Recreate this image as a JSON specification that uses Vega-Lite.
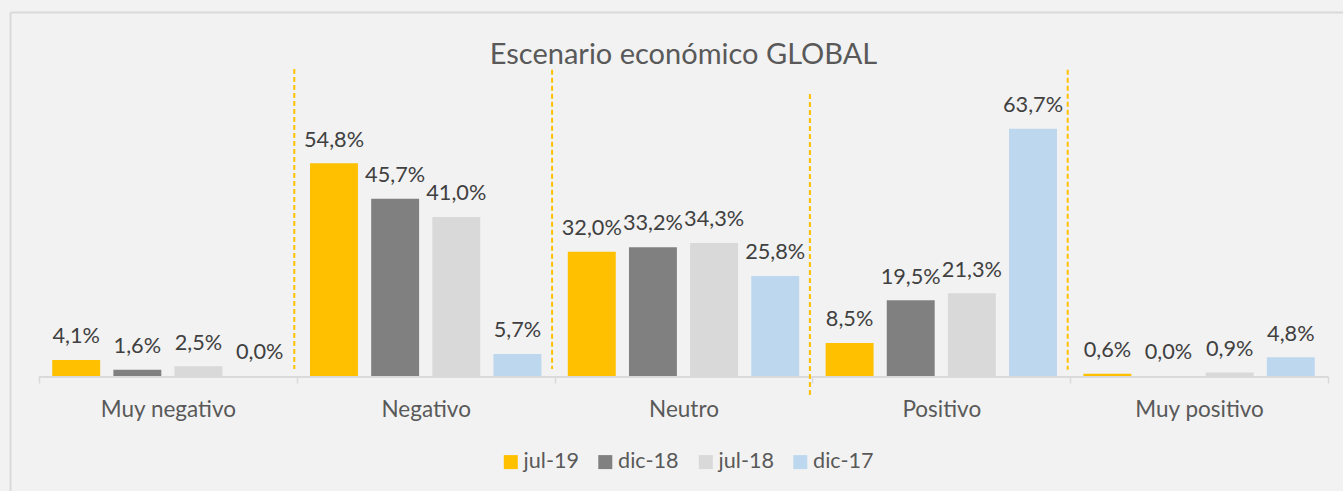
{
  "$schema": "https://vega.github.io/schema/vega-lite/v6.json",
  "autosize": {"type": "none"},
  "padding": {"left": 10, "top": 12, "right": 0, "bottom": 0},
  "width": 1333,
  "height": 479,
  "background": "#F2F2F2",
  "title": {
    "text": "Escenario económico GLOBAL",
    "font": "Lato",
    "fontSize": 29,
    "fontWeight": "normal",
    "color": "#595959",
    "anchor": "middle",
    "frame": "group",
    "baseline": "alphabetic",
    "offset": -81,
    "dx": 7
  },
  "config": {
    "view": {"stroke": null},
    "locale": {"number": {"decimal": ",", "thousands": ".", "grouping": [3], "currency": ["", " €"]}}
  },
  "datasets": {
    "main": [
      {"cat": "Muy negativo", "s": "jul-19", "v": 0.041},
      {"cat": "Muy negativo", "s": "dic-18", "v": 0.016},
      {"cat": "Muy negativo", "s": "jul-18", "v": 0.025},
      {"cat": "Muy negativo", "s": "dic-17", "v": 0.0},
      {"cat": "Negativo", "s": "jul-19", "v": 0.548},
      {"cat": "Negativo", "s": "dic-18", "v": 0.457},
      {"cat": "Negativo", "s": "jul-18", "v": 0.41},
      {"cat": "Negativo", "s": "dic-17", "v": 0.057},
      {"cat": "Neutro", "s": "jul-19", "v": 0.32},
      {"cat": "Neutro", "s": "dic-18", "v": 0.332},
      {"cat": "Neutro", "s": "jul-18", "v": 0.343},
      {"cat": "Neutro", "s": "dic-17", "v": 0.258},
      {"cat": "Positivo", "s": "jul-19", "v": 0.085},
      {"cat": "Positivo", "s": "dic-18", "v": 0.195},
      {"cat": "Positivo", "s": "jul-18", "v": 0.213},
      {"cat": "Positivo", "s": "dic-17", "v": 0.637},
      {"cat": "Muy positivo", "s": "jul-19", "v": 0.006},
      {"cat": "Muy positivo", "s": "dic-18", "v": 0.0},
      {"cat": "Muy positivo", "s": "jul-18", "v": 0.009},
      {"cat": "Muy positivo", "s": "dic-17", "v": 0.048}
    ],
    "seps": [
      {"cat": "Negativo", "top": 0.791, "bottom": 0.018},
      {"cat": "Neutro", "top": 0.789, "bottom": 0.018},
      {"cat": "Positivo", "top": 0.727, "bottom": -0.049},
      {"cat": "Muy positivo", "top": 0.789, "bottom": 0.016}
    ]
  },
  "layer": [
    {
      "data": {"name": "main"},
      "mark": {"type": "bar"},
      "encoding": {
        "x": {"field": "cat", "type": "nominal",
              "scale": {"domain": ["Muy negativo", "Negativo", "Neutro", "Positivo", "Muy positivo"], "paddingInner": 0, "paddingOuter": 0.0854, "align": 0.659},
              "axis": {"orient": "bottom", "offset": -115, "title": null, "domain": false, "ticks": true, "tickBand": "extent", "tickSize": 7, "tickColor": "#D9D9D9", "tickWidth": 1.5, "labelAngle": 0, "labelFont": "Lato", "labelFontSize": 22.5, "labelColor": "#595959", "labelPadding": 33, "labelBaseline": "alphabetic", "grid": false}},
        "xOffset": {"field": "s", "type": "nominal", "sort": ["jul-19", "dic-18", "jul-18", "dic-17"], "scale": {"paddingInner": 0.216, "paddingOuter": 0.216}},
        "y": {"field": "v", "type": "quantitative",
              "scale": {"domain": [-0.2964, 0.9381], "nice": false, "zero": false},
              "axis": {"orient": "left", "title": null, "labels": false, "ticks": false, "domain": true, "domainColor": "#D9D9D9", "domainWidth": 2, "grid": true, "gridColor": "#D9D9D9", "gridWidth": 2, "values": [0.9381]}},
        "color": {"field": "s", "type": "nominal",
                  "scale": {"domain": ["jul-19", "dic-18", "jul-18", "dic-17"], "range": ["#FFC000", "#808080", "#D9D9D9", "#BDD7EE"]},
                  "legend": {"title": null, "orient": "none", "legendX": 490, "legendY": 439, "direction": "horizontal", "columns": 4, "symbolType": "square", "symbolSize": 196, "symbolStrokeWidth": 0, "labelFont": "Lato", "labelFontSize": 21.6, "labelColor": "#595959", "labelOffset": 2, "columnPadding": 15.5}}
      }
    },
    {
      "data": {"name": "main"},
      "mark": {"type": "bar", "color": "#D9D9D9"},
      "encoding": {
        "x": {"field": "cat", "type": "nominal"},
        "y": {"datum": 0, "type": "quantitative"},
        "y2": {"datum": -0.004}
      }
    },
    {
      "data": {"name": "main"},
      "mark": {"type": "text", "baseline": "alphabetic", "dy": -16.7, "font": "Lato", "fontSize": 21.7, "color": "#404040"},
      "encoding": {
        "x": {"field": "cat", "type": "nominal"},
        "xOffset": {"field": "s", "type": "nominal", "sort": ["jul-19", "dic-18", "jul-18", "dic-17"]},
        "y": {"field": "v", "type": "quantitative"},
        "text": {"field": "v", "type": "quantitative", "format": ".1%"}
      }
    },
    {
      "data": {"name": "seps"},
      "mark": {"type": "rule", "color": "#FFC000", "strokeWidth": 2, "strokeDash": [5, 3], "xOffset": -2.5},
      "encoding": {
        "x": {"field": "cat", "type": "nominal", "bandPosition": 0},
        "y": {"field": "top", "type": "quantitative"},
        "y2": {"field": "bottom"}
      }
    }
  ]
}
